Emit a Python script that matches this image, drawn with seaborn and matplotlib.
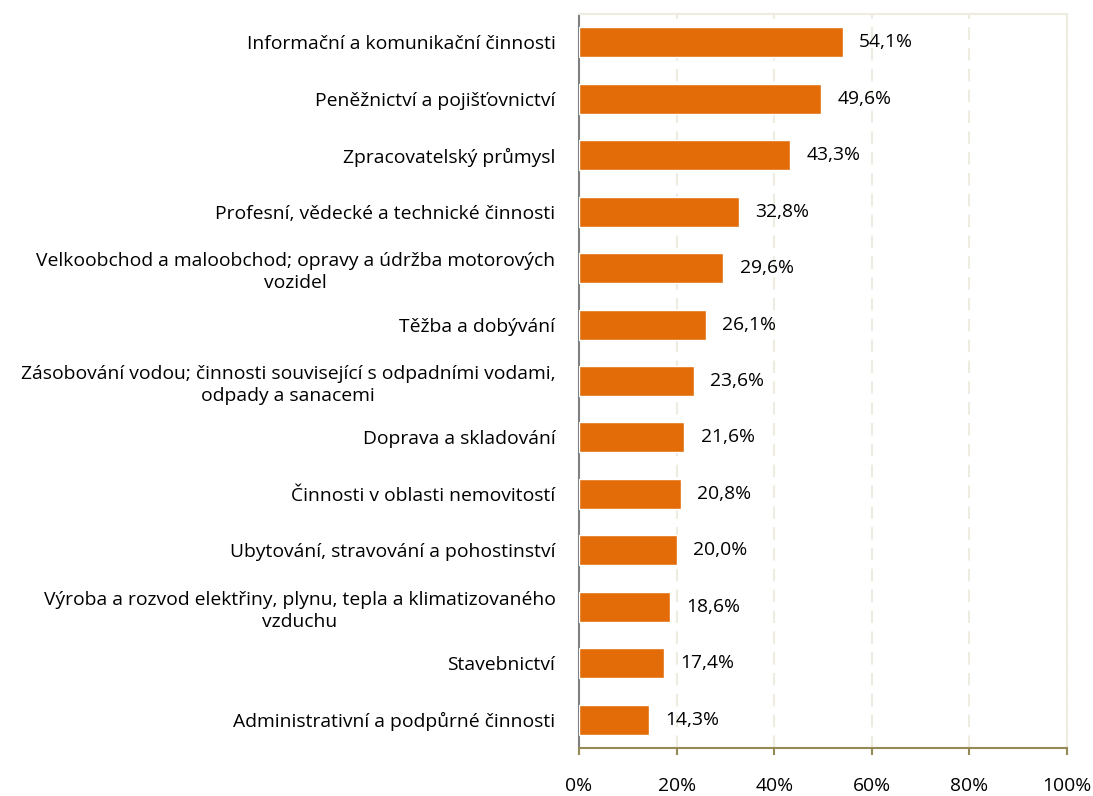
import matplotlib
matplotlib.use("Agg")
import matplotlib.pyplot as plt
import seaborn as sns
import pandas as pd

categories = [
    "Informační a komunikační činnosti",
    "Peněžnictví a pojišťovnictví",
    "Zpracovatelský průmysl",
    "Profesní, vědecké a technické činnosti",
    "Velkoobchod a maloobchod; opravy a údržba motorových\nvozidel",
    "Těžba a dobývání",
    "Zásobování vodou; činnosti související s odpadními vodami,\nodpady a sanacemi",
    "Doprava a skladování",
    "Činnosti v oblasti nemovitostí",
    "Ubytování, stravování a pohostinství",
    "Výroba a rozvod elektřiny, plynu, tepla a klimatizovaného\nvzduchu",
    "Stavebnictví",
    "Administrativní a podpůrné činnosti",
]
values = [54.1, 49.6, 43.3, 32.8, 29.6, 26.1, 23.6, 21.6, 20.8, 20.0, 18.6, 17.4, 14.3]
xticks = [0, 20, 40, 60, 80, 100]

sns.set_theme(style="white")
plt.rcParams['font.family'] = ['Open Sans', 'DejaVu Sans']
FS = 13.9

df = pd.DataFrame({"cat": categories, "val": values})

fig = plt.figure(figsize=(10.93, 7.96), dpi=100)
ax = fig.add_axes([579/1093, 48/796, (1067-579)/1093, (748-14)/796])

sns.barplot(data=df, x="val", y="cat", orient="h", color="#E36C09",
            saturation=1, width=0.53, ax=ax, zorder=3)

ax.set_xlim(0, 100)
ax.set_ylim(len(categories) - 0.5, -0.5)
ax.set_xticks(xticks)
ax.set_xticklabels([f"{t}%" for t in xticks], fontsize=FS, color="#000000")
ax.set_xlabel("")
ax.set_ylabel("")

for x in xticks[1:]:
    ax.axvline(x, color="#EEECE1", lw=1.5, ls=(0, (6, 4)), zorder=1)

for i, v in enumerate(values):
    ax.text(v + 3.3, i, f"{v:.1f}%".replace(".", ","), va="center", ha="left",
            fontsize=FS, color="#000000", zorder=4)

ax.tick_params(axis="x", direction="out", length=5, width=1.5, color="#948A54",
               pad=16, bottom=True)
ax.tick_params(axis="y", length=0, pad=17)
for lbl in ax.get_yticklabels():
    lbl.set_fontsize(FS)
    lbl.set_multialignment("center")
    lbl.set_color("#000000")
    lbl.set_linespacing(1.3)

ax.spines["left"].set_color("#808080")
ax.spines["left"].set_linewidth(1.5)
ax.spines["bottom"].set_color("#948A54")
ax.spines["bottom"].set_linewidth(1.5)
ax.spines["top"].set_color("#EEECE1")
ax.spines["top"].set_linewidth(1.5)
ax.spines["right"].set_color("#EEECE1")
ax.spines["right"].set_linewidth(1.5)

fig.savefig("out.png", dpi=100)
